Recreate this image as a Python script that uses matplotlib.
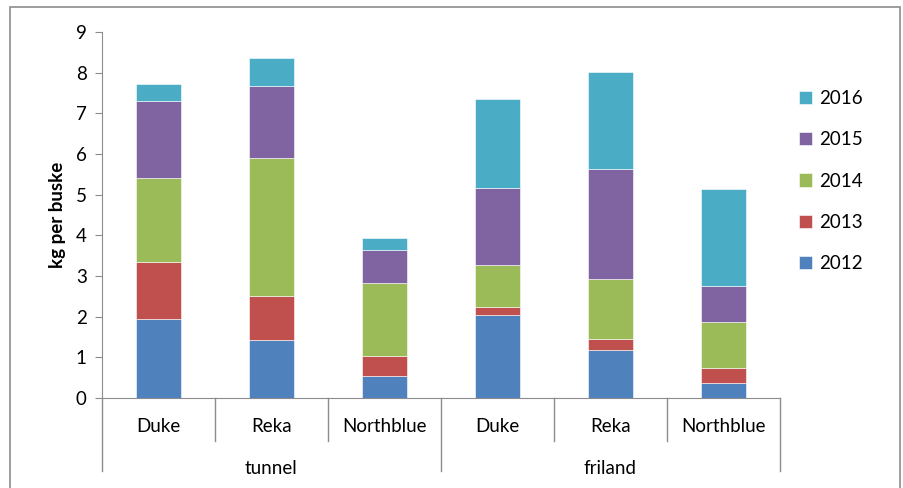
import matplotlib.pyplot as plt
import matplotlib.transforms as mtransforms
from matplotlib.patches import Rectangle
import numpy as np

plt.rcParams['font.family'] = ['Lato', 'DejaVu Sans']

# sorter og dyrkingsmåte
sorter = ['Duke', 'Reka', 'Northblue', 'Duke', 'Reka', 'Northblue']
grupper = ['tunnel', 'friland']
aar = ['2012', '2013', '2014', '2015', '2016']

# avling per år (kg per busk), i samme rekkefølge som sorter
y2012 = [1.95, 1.42, 0.55, 2.03, 1.17, 0.36]
y2013 = [1.40, 1.10, 0.48, 0.22, 0.29, 0.38]
y2014 = [2.05, 3.37, 1.79, 1.03, 1.47, 1.12]
y2015 = [1.91, 1.79, 0.81, 1.89, 2.70, 0.89]
y2016 = [0.42, 0.68, 0.30, 2.18, 2.39, 2.40]

farger = ['#4F81BD', '#C0504D', '#9BBB59', '#8064A2', '#4BACC6']

fig = plt.figure(figsize=(9.04, 4.88), dpi=100)
ax = fig.add_axes([102 / 904, 90 / 488, 678 / 904, 366 / 488])

# ramme rundt hele diagrammet
fig.patches.append(Rectangle((10 / 904, -0.05), 890 / 904, 1.05 - 7 / 488,
                             transform=fig.transFigure, fill=False,
                             edgecolor='#8c8c8c', linewidth=1.2))

x = np.arange(len(sorter))
bunn = np.zeros(len(sorter))
for verdier, farge, navn in zip([y2012, y2013, y2014, y2015, y2016], farger, aar):
    ax.bar(x, verdier, width=0.4, bottom=bunn, color=farge, label=navn,
           edgecolor='#ffffff', linewidth=0.4, zorder=3)
    bunn += np.array(verdier)

ax.set_xlim(-0.5, len(sorter) - 0.5)
ax.set_ylim(0, 9)
ax.set_yticks(range(10))
ax.tick_params(axis='y', labelsize=13.5, length=5, color='#8c8c8c', pad=6)
ax.set_xticks([])

for side in ['top', 'right']:
    ax.spines[side].set_visible(False)
ax.spines['left'].set_color('#8c8c8c')
ax.spines['bottom'].set_color('#8c8c8c')

ax.set_ylabel('kg per buske', fontsize=13.5, fontweight='bold', labelpad=7)

# kategoriaksen i to nivåer
trans = mtransforms.blended_transform_factory(ax.transData, ax.transAxes)
for i in range(len(sorter) + 1):
    skille = i - 0.5
    if i % 3 == 0:
        ax.plot([skille, skille], [0, -0.2], transform=trans, color='#8c8c8c',
                linewidth=1, clip_on=False)
    else:
        ax.plot([skille, skille], [0, -0.117], transform=trans, color='#8c8c8c',
                linewidth=1, clip_on=False)
for i, navn in enumerate(sorter):
    ax.text(i, -0.077, navn, transform=trans, ha='center', va='center', fontsize=13.5)
for j, navn in enumerate(grupper):
    ax.text(3 * j + 1, -0.192, navn, transform=trans, ha='center', va='center', fontsize=13.5)

handles, labels = ax.get_legend_handles_labels()
ax.legend(handles[::-1], labels[::-1], loc='upper left', bbox_to_anchor=(1.003, 0.888),
          frameon=False, fontsize=13.5, handlelength=0.7, handleheight=0.7,
          handletextpad=0.4, labelspacing=1.3)

fig.savefig('out.png', dpi=100)
